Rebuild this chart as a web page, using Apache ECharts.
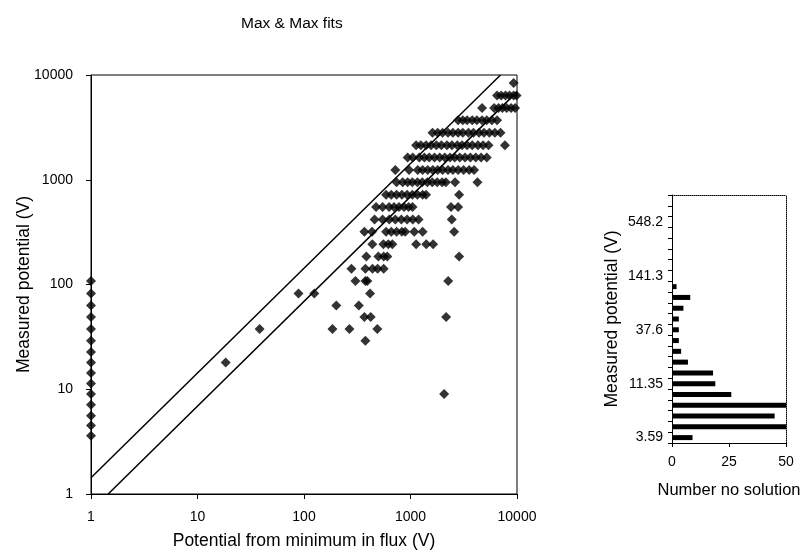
<!DOCTYPE html>
<html>
<head>
<meta charset="utf-8">
<title>Max & Max fits</title>
<script src="https://cdn.jsdelivr.net/npm/echarts@6/dist/echarts.min.js"></script>
<style>
  html, body { margin: 0; padding: 0; background: #fff; }
  #chart { width: 805px; height: 556px; }
</style>
</head>
<body>
<div id="chart"></div>
<script>
const levels = [3.59, 4.5, 5.6, 7.1, 9.0, 11.35, 14.3, 18.0, 22.7, 29.0, 37.6, 49, 63, 82, 108,
  141.3, 185, 242, 318, 418, 548.2, 720, 945, 1240, 1630, 2140, 2810, 3690, 4850, 6370, 8370];

// points with no solution sit at x = 1 (levels 0..14)
const noSolutionLevels = [0, 1, 2, 3, 4, 5, 6, 7, 8, 9, 10, 11, 12, 13, 14];

// scatter rows: level index and the x values (potential from minimum in flux) on that row
const rowLevels = [4, 7, 9, 10, 11, 12, 13, 14, 15, 16, 17, 18, 19, 20, 21, 22, 23, 24, 25, 26, 27, 28, 29, 30];
const rowX = [
  [2070],
  [18.4],
  [377],
  [38.3, 185, 267, 488],
  [369, 423, 2160],
  [201, 327],
  [88.8, 125, 417],
  [304, 377, 393, 2260],
  [279, 377, 440, 491, 560],
  [385, 499, 560, 606, 2860],
  [438, 556, 619, 675, 1130, 1405, 1630],
  [369, 435, 590, 660, 740, 830, 893, 1084, 1300, 2570],
  [460, 547, 632, 720, 820, 930, 1050, 1190, 2440],
  [475, 547, 630, 700, 780, 870, 960, 1045, 2400, 2800],
  [590, 660, 740, 830, 930, 1040, 1160, 1300, 1400, 2860],
  [740, 845, 940, 1040, 1160, 1290, 1440, 1600, 1780, 1980, 2150, 2620, 4250],
  [720, 970, 1170, 1300, 1450, 1620, 1800, 2000, 2250, 2500, 2800, 3150, 3550, 3950],
  [940, 1050, 1210, 1350, 1500, 1680, 1880, 2100, 2350, 2600, 2900, 3250, 3650, 4100, 4600, 5200],
  [1130, 1250, 1400, 1560, 1750, 1950, 2200, 2450, 2750, 3050, 3400, 3800, 4300, 4800, 5400, 7700],
  [1610, 1800, 2000, 2250, 2500, 2800, 3100, 3500, 3900, 4400, 4900, 5500, 6200, 7000],
  [2800, 3100, 3400, 3800, 4200, 4700, 5200, 5800, 6500],
  [4700, 6100, 6700, 7300, 8000, 8800, 9600],
  [6500, 7100, 7800, 8500, 9300, 9900],
  [9300]
];

// the two fit lines (end points)
const upperFit = [[1, 1.43], [7000, 10000]];
const lowerFit = [[1.45, 1], [10000, 6900]];

// histogram: number with no solution per level bin (bins 0..22)
const histBins = levels.slice(0, 23).map(String);
const histCounts = [9, 51, 45, 51, 26, 19, 18, 7, 4, 3, 3, 3, 5, 8, 2, 0, 0, 0, 0, 0, 0, 0, 0];

const FONT = "'Liberation Sans', Arial, sans-serif";

const scatterData = [];
noSolutionLevels.forEach(i => scatterData.push([1, levels[i]]));
rowLevels.forEach((li, k) => {
  rowX[k].forEach(x => scatterData.push([x, levels[li]]));
});

const chart = echarts.init(document.getElementById('chart'));

const txt = { color: '#000', fontFamily: FONT, fontSize: 14 };
const nameTxt = { color: '#000', fontFamily: FONT, fontSize: 17.5 };
const blackLine = { show: true, lineStyle: { color: '#000', width: 1 } };
const dottedLine = { show: true, onZero: false, lineStyle: { color: '#000', width: 1, type: 'dotted' } };

chart.setOption({
  backgroundColor: '#fff',
  animation: false,
  title: {
    text: 'Max & Max fits',
    left: 236,
    top: 11,
    textStyle: { color: '#000', fontFamily: FONT, fontSize: 15.5, fontWeight: 'normal' }
  },
  grid: [
    { left: 91, top: 75, width: 426, height: 419, show: true, borderColor: '#000', borderWidth: 1,
      outerBoundsMode: 'none' },
    { left: 672, top: 195, width: 114, height: 248, outerBoundsMode: 'none' }
  ],
  xAxis: [
    {
      gridIndex: 0, type: 'log', logBase: 10, min: 1, max: 10000,
      axisLine: blackLine,
      axisTick: { show: true, length: 5, lineStyle: { color: '#000' } },
      axisLabel: Object.assign({ margin: 16, formatter: v => String(Math.round(v)) }, txt),
      splitLine: { show: false },
      name: 'Potential from minimum in flux (V)',
      nameLocation: 'middle', nameGap: 38, nameMoveOverlap: false,
      nameTextStyle: nameTxt
    },
    {
      gridIndex: 1, type: 'value', min: 0, max: 50, interval: 25,
      axisLine: blackLine,
      axisTick: { show: true, length: 4, lineStyle: { color: '#000' } },
      axisLabel: Object.assign({ margin: 12 }, txt),
      splitLine: { show: false },
      name: 'Number no solution',
      nameLocation: 'middle', nameGap: 39, nameMoveOverlap: false,
      nameTextStyle: Object.assign({}, nameTxt, { fontSize: 16.5 })
    },
    {
      gridIndex: 1, type: 'value', min: 0, max: 50, position: 'top',
      axisLine: dottedLine, axisTick: { show: false }, axisLabel: { show: false },
      splitLine: { show: false }
    }
  ],
  yAxis: [
    {
      gridIndex: 0, type: 'log', logBase: 10, min: 1, max: 10000,
      axisLine: blackLine,
      axisTick: { show: true, length: 5, lineStyle: { color: '#000' } },
      axisLabel: Object.assign({ margin: 18, formatter: v => String(Math.round(v)) }, txt),
      splitLine: { show: false },
      name: 'Measured potential (V)',
      nameLocation: 'middle', nameGap: 58, nameMoveOverlap: false,
      nameTextStyle: nameTxt
    },
    {
      gridIndex: 1, type: 'category', data: histBins,
      axisLine: blackLine,
      axisTick: { show: true, interval: 0, length: 4, lineStyle: { color: '#000' } },
      axisLabel: Object.assign({ interval: 4, margin: 9 }, txt),
      name: 'Measured potential (V)',
      nameLocation: 'middle', nameGap: 51, nameMoveOverlap: false,
      nameTextStyle: nameTxt
    },
    {
      gridIndex: 1, type: 'value', min: 0, max: 1, position: 'right',
      axisLine: dottedLine, axisTick: { show: false }, axisLabel: { show: false },
      splitLine: { show: false }
    }
  ],
  series: [
    {
      type: 'line', xAxisIndex: 0, yAxisIndex: 0, data: upperFit,
      symbol: 'none', lineStyle: { color: '#000', width: 1.5 }
    },
    {
      type: 'line', xAxisIndex: 0, yAxisIndex: 0, data: lowerFit,
      symbol: 'none', lineStyle: { color: '#000', width: 1.5 }
    },
    {
      type: 'scatter', xAxisIndex: 0, yAxisIndex: 0, data: scatterData,
      symbol: 'diamond', symbolSize: 10, clip: false,
      itemStyle: { color: '#000' }
    },
    {
      type: 'bar', xAxisIndex: 1, yAxisIndex: 1, data: histCounts,
      barWidth: 5, itemStyle: { color: '#000' }
    }
  ]
});
</script>
</body>
</html>
